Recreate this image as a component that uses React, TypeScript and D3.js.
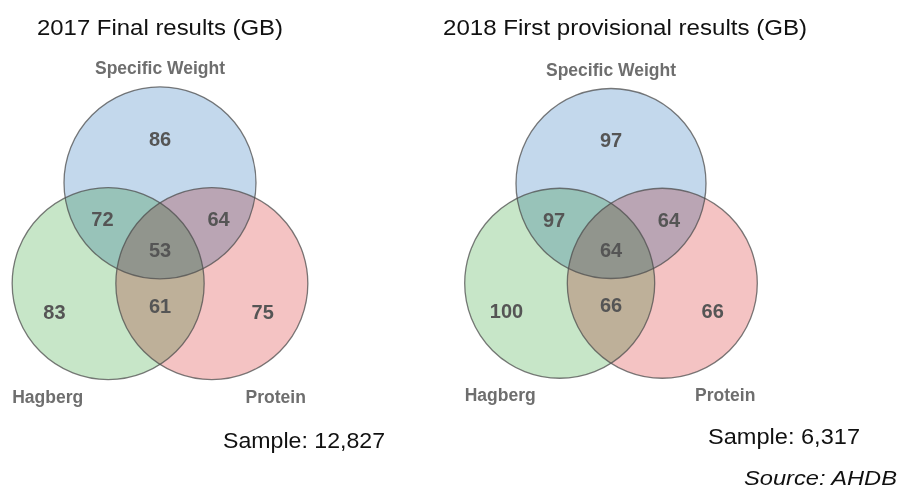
import React from 'react';
import * as d3 from 'd3';

// ── Data ──────────────────────────────────────────────────────────────────────
const SETS = ['Specific Weight', 'Hagberg', 'Protein'];
const TITLES = ['2017 Final results (GB)', '2018 First provisional results (GB)'];
const SAMPLES = ['Sample: 12,827', 'Sample: 6,317'];
// region order: SW only, SW∩H, SW∩P, all three, H only, H∩P, P only
const VALUES_2017 = [86, 72, 64, 53, 83, 61, 75];
const VALUES_2018 = [97, 97, 64, 64, 100, 66, 66];
const SOURCE = 'Source: AHDB';

// ── Layout (in circle-radius units, relative to the diagram centre) ───────────
const CIRCLE_POS: [number, number][] = [[0, -0.70], [-0.54, 0.35], [0.54, 0.35]];
const REGION_POS: [number, number][] = [
  [0, -1.16], [-0.6, -0.32], [0.61, -0.32], [0, 0], [-1.1, 0.64], [0, 0.58], [1.07, 0.64],
];
const CIRCLE_FILL = ['#c3d8ec', '#c7e6c8', '#f4c3c3'];
const FONT = 'Arial, "Liberation Sans", sans-serif';

const PANELS = [
  { cx: 160, cy: 250, r: 96, values: VALUES_2017, titleX: 37, titleW: 246, sampleX: 223, sampleY: 448, sampleW: 162 },
  { cx: 611, cy: 250, r: 95, values: VALUES_2018, titleX: 443, titleW: 364, sampleX: 708, sampleY: 444, sampleW: 152 },
];

const Venn: React.FC<{ p: typeof PANELS[number]; i: number }> = ({ p, i }) => {
  const x = d3.scaleLinear().domain([-1, 1]).range([p.cx - p.r, p.cx + p.r]);
  const y = d3.scaleLinear().domain([-1, 1]).range([p.cy - p.r, p.cy + p.r]);
  const r = p.r;
  const labelFont = { fontFamily: FONT, fontWeight: 700 };

  return (
    <g>
      <text x={p.titleX} y={35} fontSize={22} fontFamily={FONT} fill="#111"
        textLength={p.titleW} lengthAdjust="spacingAndGlyphs">
        {TITLES[i]}
      </text>

      {/* circles */}
      <g style={{ isolation: 'isolate' }}>
        {CIRCLE_POS.map((c, k) => (
          <circle key={k} cx={x(c[0])} cy={y(c[1])} r={r} fill={CIRCLE_FILL[k]}
            style={{ mixBlendMode: 'multiply' }} />
        ))}
      </g>
      {CIRCLE_POS.map((c, k) => (
        <circle key={'s' + k} cx={x(c[0])} cy={y(c[1])} r={r} fill="none"
          stroke="#4d4d4d" strokeOpacity={0.75} strokeWidth={1.3} />
      ))}

      {/* region values */}
      {p.values.map((v, k) => (
        <text key={k} x={x(REGION_POS[k][0])} y={y(REGION_POS[k][1])} dy="0.36em"
          textAnchor="middle" fontSize={20} fill="#555" {...labelFont}>
          {v}
        </text>
      ))}

      {/* set labels */}
      <text x={x(0)} y={y(-1.9)} dy="0.35em" textAnchor="middle" fontSize={17.5} fill="#6e6e6e" {...labelFont}>
        {SETS[0]}
      </text>
      <text x={x(-1.54)} y={y(1.53)} dy="0.35em" textAnchor="start" fontSize={17.5} fill="#6e6e6e" {...labelFont}>
        {SETS[1]}
      </text>
      <text x={x(1.52)} y={y(1.53)} dy="0.35em" textAnchor="end" fontSize={17.5} fill="#6e6e6e" {...labelFont}>
        {SETS[2]}
      </text>

      <text x={p.sampleX} y={p.sampleY} fontSize={22} fontFamily={FONT} fill="#111"
        textLength={p.sampleW} lengthAdjust="spacingAndGlyphs">
        {SAMPLES[i]}
      </text>
    </g>
  );
};

export default function App() {
  return (
    <div style={{ position: 'absolute', left: 0, top: 0 }}>
      <svg width={900} height={488} style={{ display: 'block', background: '#fff' }}>
        {PANELS.map((p, i) => <Venn key={i} p={p} i={i} />)}
        <text x={744} y={485} fontSize={21} fontStyle="italic" fontFamily={FONT} fill="#111"
          textLength={153} lengthAdjust="spacingAndGlyphs">
          {SOURCE}
        </text>
      </svg>
    </div>
  );
}
